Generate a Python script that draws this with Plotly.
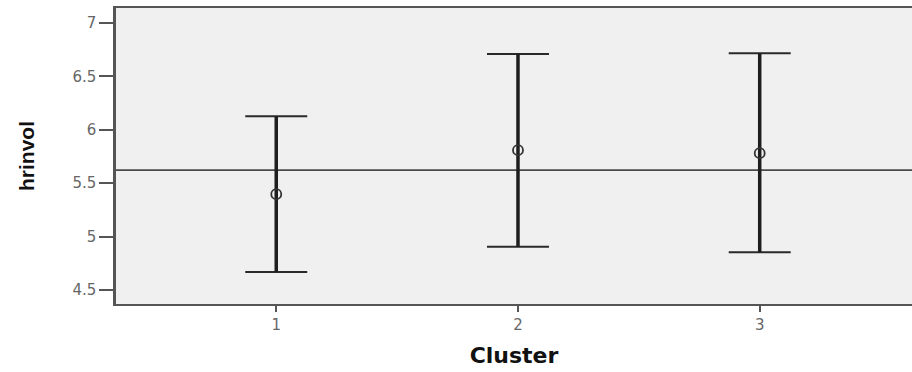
import plotly.graph_objects as go

# Cluster means of hrinvol with their interval bounds
clusters = [1, 2, 3]
means = [5.397, 5.809, 5.781]
upper = [6.127, 6.710, 6.716]
lower = [4.669, 4.906, 4.853]
grand_mean = 5.622

plus = [u - m for u, m in zip(upper, means)]
minus = [m - l for m, l in zip(means, lower)]

fig = go.Figure()

# caps and thin stems
fig.add_trace(go.Scatter(
    x=clusters, y=means, mode="markers",
    marker=dict(size=1, color="rgba(0,0,0,0)"),
    error_y=dict(type="data", symmetric=False, array=plus, arrayminus=minus,
                 color="#2a2a2a", thickness=2, width=31),
    showlegend=False, hoverinfo="skip",
))
# heavier stems
fig.add_trace(go.Scatter(
    x=clusters, y=means, mode="markers",
    marker=dict(size=1, color="rgba(0,0,0,0)"),
    error_y=dict(type="data", symmetric=False, array=plus, arrayminus=minus,
                 color="#1e1e1e", thickness=3.5, width=0),
    showlegend=False, hoverinfo="skip",
))
# mean markers
fig.add_trace(go.Scatter(
    x=clusters, y=means, mode="markers",
    marker=dict(symbol="circle-open", size=10, color="#333333",
                line=dict(width=1.8, color="#333333")),
    showlegend=False,
))

# overall mean reference line
fig.add_hline(y=grand_mean, line=dict(color="#4a4a4a", width=1.6), layer="below")

tick_font = dict(size=15, color="#666666", family="DejaVu Sans, Liberation Sans, sans-serif")

fig.update_layout(
    width=912, height=372,
    margin=dict(l=116, r=0, t=8, b=68),
    paper_bgcolor="white",
    plot_bgcolor="#f0f0f0",
    font=dict(family="Liberation Sans, Arial, sans-serif"),
)
fig.update_xaxes(
    range=[0.337, 3.63],
    tickvals=clusters, ticktext=[str(c) for c in clusters],
    ticks="outside", ticklen=6, tickwidth=2, tickcolor="#555555",
    tickfont=tick_font,
    showline=True, linecolor="#555555", linewidth=2, mirror=True,
    showgrid=False, zeroline=False,
    title=dict(text="<b>Cluster</b>", font=dict(size=22, color="#111111",
               family="DejaVu Sans, Liberation Sans, sans-serif"), standoff=15),
)
fig.update_yaxes(
    range=[4.369, 7.14],
    tickvals=[4.5, 5, 5.5, 6, 6.5, 7],
    ticks="outside", ticklen=14, tickwidth=2, tickcolor="#555555",
    tickfont=tick_font,
    showline=True, linecolor="#555555", linewidth=2.5, mirror=False,
    showgrid=False, zeroline=False,
    title=dict(text="<b>hrinvol</b>", font=dict(size=21, color="#111111",
               family="Liberation Sans Narrow, Arial Narrow, Liberation Sans, sans-serif"),
               standoff=33),
)

fig.write_html("out.html")
